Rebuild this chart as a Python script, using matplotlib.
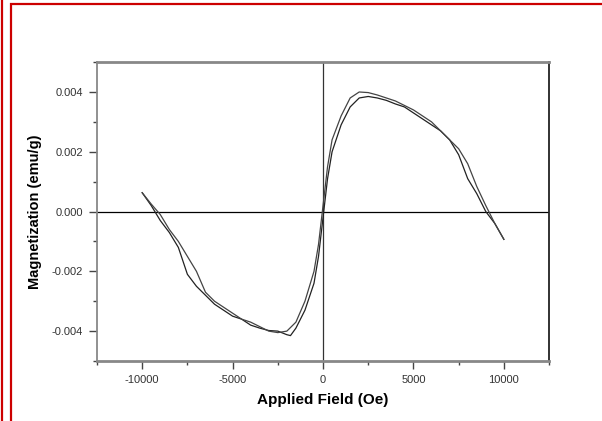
import numpy as np
import matplotlib.pyplot as plt
from matplotlib.patches import Rectangle
from matplotlib.lines import Line2D
from matplotlib.ticker import MultipleLocator, FormatStrFormatter

# ascending branch (field from -10000 to 10000)
field_up = [-10000, -9500, -9000, -8500, -8000, -7500, -7000, -6500, -6000, -5500,
            -5000, -4500, -4000, -3500, -3000, -2500, -2000, -1800, -1500, -1000,
            -500, -250, 0, 250, 500, 1000, 1500, 2000, 2500, 3000, 3500, 4000,
            4500, 5000, 5500, 6000, 6500, 7000, 7500, 8000, 8500, 9000, 9500, 10000]
mag_up = [0.00063, 0.0002, -0.0003, -0.0007, -0.0012, -0.0021, -0.0025, -0.0028,
          -0.0031, -0.0033, -0.0035, -0.0036, -0.0038, -0.0039, -0.00398, -0.0040,
          -0.00412, -0.00415, -0.0039, -0.0033, -0.0024, -0.0015, -0.0002, 0.0011,
          0.0020, 0.0029, 0.0035, 0.0038, 0.00385, 0.0038, 0.00372, 0.0036, 0.0035,
          0.0033, 0.0031, 0.0029, 0.0027, 0.0024, 0.0019, 0.0011, 0.0006, 0.0000,
          -0.0004, -0.00093]

# descending branch (field from 10000 back to -10000)
field_down = [10000, 9500, 9000, 8500, 8000, 7500, 7000, 6500, 6000, 5500, 5000,
              4500, 4000, 3500, 3000, 2500, 2000, 1500, 1000, 500, 250, 0, -250,
              -500, -1000, -1500, -2000, -2500, -3000, -3500, -4000, -4500, -5000,
              -5500, -6000, -6500, -7000, -7500, -8000, -8500, -9000, -9500, -10000]
mag_down = [-0.00093, -0.0004, 0.0002, 0.00084, 0.0016, 0.0021, 0.0024, 0.0027,
            0.0030, 0.0032, 0.0034, 0.00355, 0.0037, 0.0038, 0.0039, 0.00398,
            0.0040, 0.0038, 0.0032, 0.0024, 0.0015, 0.0002, -0.0011, -0.0020,
            -0.0030, -0.0037, -0.0040, -0.00405, -0.0040, -0.00385, -0.0037,
            -0.0036, -0.0034, -0.0032, -0.0030, -0.0027, -0.0020, -0.0015, -0.0010,
            -0.0006, -0.0001, 0.00025, 0.00063]

fig = plt.figure(figsize=(6.02, 4.21), dpi=100)
ax = fig.add_axes([0.1611, 0.1425, 0.751, 0.710])

ax.axhline(0, color="black", lw=0.9, zorder=1)
ax.axvline(0, color="#333333", lw=0.9, zorder=1)

ax.plot(field_up, mag_up, color="#222222", lw=0.9)
ax.plot(field_down, mag_down, color="#444444", lw=0.9)

ax.set_xlim(-12500, 12500)
ax.set_ylim(-0.005, 0.005)

ax.xaxis.set_major_locator(MultipleLocator(5000))
ax.xaxis.set_minor_locator(MultipleLocator(2500))
ax.yaxis.set_major_locator(MultipleLocator(0.002))
ax.yaxis.set_minor_locator(MultipleLocator(0.001))
ax.yaxis.set_major_formatter(FormatStrFormatter("%.3f"))
ax.xaxis.set_major_formatter(FormatStrFormatter("%d"))

ax.tick_params(which="both", direction="out", top=False, right=False,
               color="#444444", width=1)
ax.tick_params(which="major", length=6, labelsize=8, labelcolor="#333333", pad=4)
ax.tick_params(which="minor", length=3)
for lab in ax.get_xticklabels() + ax.get_yticklabels():
    lab.set_family("Liberation Sans")

for side in ["top", "bottom", "left"]:
    ax.spines[side].set_color("#888888")
ax.spines["top"].set_linewidth(2)
ax.spines["bottom"].set_linewidth(2)
ax.spines["left"].set_linewidth(1.3)
ax.spines["right"].set_color("#222222")
ax.spines["right"].set_linewidth(1.3)

ax.set_xlabel("Applied Field (Oe)", fontsize=11, fontweight="bold",
              family="Liberation Sans", labelpad=6)
ax.set_ylabel("Magnetization (emu/g)", fontsize=10.5, fontweight="bold",
              family="Liberation Sans", labelpad=7)

# red frame of the source page
fig.add_artist(Line2D([1.5 / 602, 1.5 / 602], [0, 1], color="#cc0000", lw=1.6))
fig.add_artist(Rectangle((10.5 / 602, -0.1), 1.2, 1 - 3.5 / 421 + 0.1,
                         fill=False, edgecolor="#cc0000", lw=1.6))

fig.savefig("out.png", dpi=100)
